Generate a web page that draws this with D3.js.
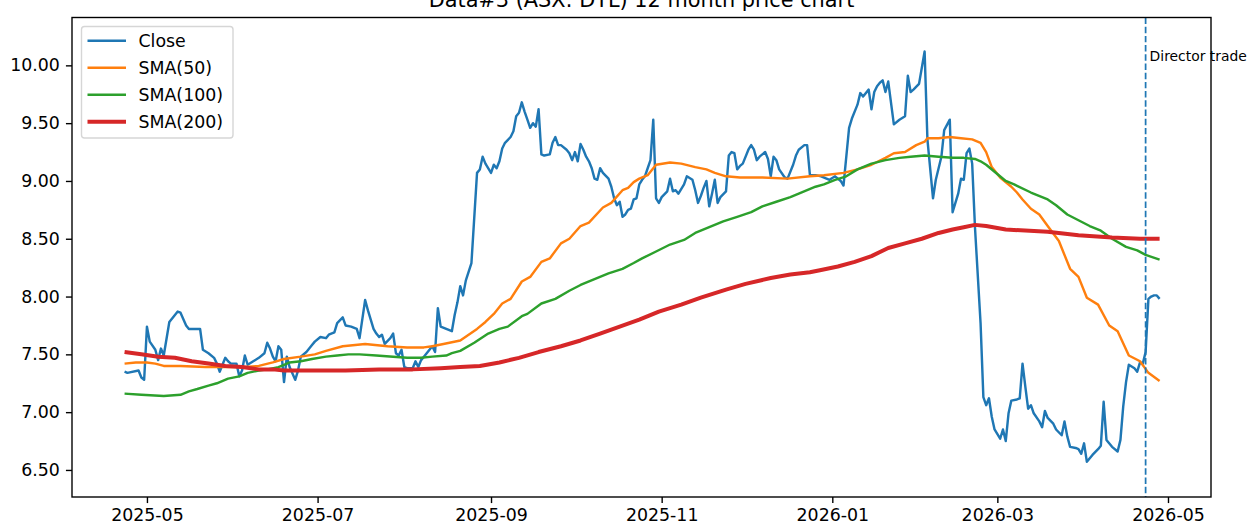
<!DOCTYPE html>
<html>
<head>
<meta charset="utf-8">
<script src="https://cdn.jsdelivr.net/npm/d3@7"></script>
<style>
  body { margin: 0; background: #fff; }
  svg { display: block; font-family: "DejaVu Sans", sans-serif; }
</style>
</head>
<body>
<script>
const title = "Data#3 (ASX: DTL) 12 month price chart";
const seriesNames = ["Close", "SMA(50)", "SMA(100)", "SMA(200)"];
const yTicks = [6.5, 7.0, 7.5, 8.0, 8.5, 9.0, 9.5, 10.0];
const tradeDate = "2026-04-23";
const tradeLabel = "Director trade";

const close = [
  ["2025-04-23", 7.35], ["2025-04-24", 7.34], ["2025-04-28", 7.36], ["2025-04-29", 7.30], ["2025-04-30", 7.28],
  ["2025-05-01", 7.74], ["2025-05-02", 7.61], ["2025-05-04", 7.54], ["2025-05-05", 7.45], ["2025-05-06", 7.55],
  ["2025-05-07", 7.49], ["2025-05-09", 7.78], ["2025-05-10", 7.81], ["2025-05-12", 7.87], ["2025-05-13", 7.86],
  ["2025-05-15", 7.75], ["2025-05-16", 7.72], ["2025-05-18", 7.72], ["2025-05-20", 7.72], ["2025-05-21", 7.54],
  ["2025-05-23", 7.51], ["2025-05-25", 7.47], ["2025-05-26", 7.42], ["2025-05-27", 7.35], ["2025-05-28", 7.41],
  ["2025-05-29", 7.47], ["2025-05-30", 7.44], ["2025-05-31", 7.42], ["2025-06-02", 7.42], ["2025-06-03", 7.31],
  ["2025-06-04", 7.36], ["2025-06-05", 7.49], ["2025-06-06", 7.41], ["2025-06-08", 7.44], ["2025-06-10", 7.47],
  ["2025-06-12", 7.51], ["2025-06-13", 7.60], ["2025-06-14", 7.55], ["2025-06-15", 7.48], ["2025-06-16", 7.44],
  ["2025-06-17", 7.57], ["2025-06-18", 7.54], ["2025-06-19", 7.26], ["2025-06-20", 7.48], ["2025-06-21", 7.39],
  ["2025-06-23", 7.28], ["2025-06-24", 7.36], ["2025-06-25", 7.48], ["2025-06-27", 7.52], ["2025-06-29", 7.58],
  ["2025-06-30", 7.61], ["2025-07-02", 7.65], ["2025-07-04", 7.64], ["2025-07-05", 7.67], ["2025-07-07", 7.69],
  ["2025-07-08", 7.77], ["2025-07-10", 7.82], ["2025-07-11", 7.75], ["2025-07-13", 7.74], ["2025-07-15", 7.72],
  ["2025-07-16", 7.64], ["2025-07-18", 7.97], ["2025-07-19", 7.88], ["2025-07-21", 7.72], ["2025-07-22", 7.68],
  ["2025-07-23", 7.65], ["2025-07-24", 7.67], ["2025-07-25", 7.59], ["2025-07-27", 7.64], ["2025-07-28", 7.68],
  ["2025-07-29", 7.51], ["2025-07-30", 7.49], ["2025-07-31", 7.54], ["2025-08-01", 7.39], ["2025-08-02", 7.38],
  ["2025-08-04", 7.38], ["2025-08-05", 7.44], ["2025-08-06", 7.39], ["2025-08-07", 7.45], ["2025-08-08", 7.48],
  ["2025-08-10", 7.54], ["2025-08-11", 7.57], ["2025-08-12", 7.52], ["2025-08-13", 7.90], ["2025-08-14", 7.74],
  ["2025-08-16", 7.72], ["2025-08-18", 7.70], ["2025-08-19", 7.84], ["2025-08-20", 7.95], ["2025-08-21", 8.09],
  ["2025-08-22", 8.01], ["2025-08-23", 8.14], ["2025-08-25", 8.29], ["2025-08-27", 9.07], ["2025-08-28", 9.10],
  ["2025-08-29", 9.21], ["2025-08-30", 9.15], ["2025-09-01", 9.07], ["2025-09-02", 9.14], ["2025-09-03", 9.11],
  ["2025-09-04", 9.17], ["2025-09-05", 9.28], ["2025-09-06", 9.33], ["2025-09-08", 9.38], ["2025-09-09", 9.43],
  ["2025-09-10", 9.56], ["2025-09-11", 9.59], ["2025-09-12", 9.68], ["2025-09-13", 9.60], ["2025-09-14", 9.53],
  ["2025-09-15", 9.46], ["2025-09-16", 9.50], ["2025-09-17", 9.47], ["2025-09-18", 9.62], ["2025-09-19", 9.23],
  ["2025-09-20", 9.22], ["2025-09-22", 9.23], ["2025-09-23", 9.33], ["2025-09-24", 9.38], ["2025-09-25", 9.31],
  ["2025-09-26", 9.31], ["2025-09-28", 9.27], ["2025-09-29", 9.24], ["2025-09-30", 9.18], ["2025-10-01", 9.25],
  ["2025-10-02", 9.17], ["2025-10-03", 9.32], ["2025-10-04", 9.27], ["2025-10-05", 9.21], ["2025-10-06", 9.17],
  ["2025-10-07", 9.11], ["2025-10-08", 9.02], ["2025-10-09", 9.01], ["2025-10-10", 9.11], ["2025-10-11", 9.07],
  ["2025-10-13", 9.02], ["2025-10-14", 8.95], ["2025-10-15", 8.85], ["2025-10-16", 8.79], ["2025-10-17", 8.82],
  ["2025-10-18", 8.69], ["2025-10-19", 8.71], ["2025-10-20", 8.75], ["2025-10-21", 8.76], ["2025-10-22", 8.84],
  ["2025-10-23", 8.85], ["2025-10-24", 8.97], ["2025-10-25", 9.01], ["2025-10-26", 9.04], ["2025-10-27", 9.11],
  ["2025-10-28", 9.18], ["2025-10-29", 9.53], ["2025-10-30", 8.85], ["2025-10-31", 8.81], ["2025-11-01", 8.86],
  ["2025-11-03", 8.91], ["2025-11-04", 9.02], ["2025-11-05", 8.91], ["2025-11-06", 8.92], ["2025-11-07", 8.89],
  ["2025-11-09", 8.97], ["2025-11-10", 9.04], ["2025-11-12", 9.01], ["2025-11-13", 8.92], ["2025-11-14", 8.81],
  ["2025-11-15", 8.87], ["2025-11-16", 8.94], ["2025-11-17", 9.00], ["2025-11-18", 8.78], ["2025-11-19", 8.89],
  ["2025-11-20", 9.01], ["2025-11-21", 8.81], ["2025-11-22", 8.86], ["2025-11-24", 8.91], ["2025-11-25", 9.22],
  ["2025-11-26", 9.25], ["2025-11-27", 9.24], ["2025-11-28", 9.10], ["2025-11-29", 9.13], ["2025-11-30", 9.15],
  ["2025-12-02", 9.27], ["2025-12-03", 9.31], ["2025-12-04", 9.27], ["2025-12-05", 9.18], ["2025-12-06", 9.21],
  ["2025-12-08", 9.25], ["2025-12-09", 9.19], ["2025-12-10", 9.04], ["2025-12-11", 9.21], ["2025-12-12", 9.18],
  ["2025-12-13", 9.10], ["2025-12-15", 9.03], ["2025-12-16", 9.02], ["2025-12-18", 9.14], ["2025-12-19", 9.22],
  ["2025-12-20", 9.27], ["2025-12-22", 9.31], ["2025-12-23", 9.31], ["2025-12-24", 9.05], ["2025-12-26", 9.05],
  ["2025-12-28", 9.04], ["2025-12-31", 9.01], ["2026-01-02", 9.04], ["2026-01-04", 9.00], ["2026-01-05", 8.96],
  ["2026-01-07", 9.46], ["2026-01-08", 9.54], ["2026-01-10", 9.66], ["2026-01-11", 9.76], ["2026-01-12", 9.73],
  ["2026-01-14", 9.79], ["2026-01-15", 9.62], ["2026-01-16", 9.77], ["2026-01-17", 9.82], ["2026-01-18", 9.85],
  ["2026-01-19", 9.87], ["2026-01-20", 9.77], ["2026-01-21", 9.86], ["2026-01-23", 9.49], ["2026-01-25", 9.53],
  ["2026-01-27", 9.56], ["2026-01-28", 9.91], ["2026-01-29", 9.77], ["2026-01-30", 9.79], ["2026-02-01", 9.84],
  ["2026-02-03", 10.12], ["2026-02-04", 9.36], ["2026-02-06", 8.85], ["2026-02-07", 9.01], ["2026-02-09", 9.21],
  ["2026-02-10", 9.44], ["2026-02-12", 9.53], ["2026-02-13", 8.73], ["2026-02-15", 8.89], ["2026-02-16", 9.02],
  ["2026-02-17", 9.01], ["2026-02-18", 9.24], ["2026-02-19", 9.28], ["2026-02-20", 9.15], ["2026-02-21", 8.60],
  ["2026-02-23", 7.77], ["2026-02-24", 7.13], ["2026-02-25", 7.06], ["2026-02-26", 7.12], ["2026-02-27", 6.96],
  ["2026-02-28", 6.85], ["2026-03-02", 6.77], ["2026-03-03", 6.85], ["2026-03-04", 6.75], ["2026-03-05", 6.99],
  ["2026-03-06", 7.10], ["2026-03-08", 7.11], ["2026-03-09", 7.12], ["2026-03-10", 7.42], ["2026-03-11", 7.22],
  ["2026-03-12", 7.03], ["2026-03-13", 7.06], ["2026-03-14", 6.99], ["2026-03-16", 6.92], ["2026-03-17", 6.87],
  ["2026-03-18", 7.01], ["2026-03-19", 6.95], ["2026-03-21", 6.90], ["2026-03-22", 6.85], ["2026-03-24", 6.80],
  ["2026-03-25", 6.92], ["2026-03-26", 6.79], ["2026-03-27", 6.70], ["2026-03-29", 6.69], ["2026-03-30", 6.68],
  ["2026-03-31", 6.64], ["2026-04-01", 6.73], ["2026-04-02", 6.57], ["2026-04-04", 6.63], ["2026-04-06", 6.68],
  ["2026-04-07", 6.71], ["2026-04-08", 7.09], ["2026-04-09", 6.76], ["2026-04-11", 6.70], ["2026-04-13", 6.66],
  ["2026-04-14", 6.76], ["2026-04-15", 7.05], ["2026-04-16", 7.26], ["2026-04-17", 7.41], ["2026-04-19", 7.38],
  ["2026-04-20", 7.35], ["2026-04-21", 7.43], ["2026-04-22", 7.42], ["2026-04-23", 7.52], ["2026-04-24", 7.98],
  ["2026-04-25", 8.00], ["2026-04-26", 8.01], ["2026-04-27", 8.01], ["2026-04-28", 7.98]
];

const sma50 = [
  ["2025-04-23", 7.42], ["2025-04-27", 7.43], ["2025-05-01", 7.43], ["2025-05-04", 7.42], ["2025-05-07", 7.40],
  ["2025-05-13", 7.40], ["2025-05-22", 7.39], ["2025-06-05", 7.39], ["2025-06-10", 7.40], ["2025-06-15", 7.43],
  ["2025-06-19", 7.46], ["2025-06-25", 7.48], ["2025-06-30", 7.50], ["2025-07-04", 7.53], ["2025-07-10", 7.57],
  ["2025-07-18", 7.59], ["2025-07-26", 7.57], ["2025-08-02", 7.56], ["2025-08-08", 7.56], ["2025-08-11", 7.57],
  ["2025-08-15", 7.59], ["2025-08-21", 7.62], ["2025-08-27", 7.72], ["2025-08-30", 7.78], ["2025-09-02", 7.85],
  ["2025-09-05", 7.94], ["2025-09-08", 7.98], ["2025-09-12", 8.13], ["2025-09-15", 8.17], ["2025-09-19", 8.30],
  ["2025-09-22", 8.33], ["2025-09-26", 8.46], ["2025-09-29", 8.50], ["2025-10-03", 8.61], ["2025-10-06", 8.64],
  ["2025-10-11", 8.77], ["2025-10-14", 8.81], ["2025-10-18", 8.92], ["2025-10-20", 8.94], ["2025-10-22", 8.99],
  ["2025-10-24", 9.02], ["2025-10-27", 9.05], ["2025-10-30", 9.14], ["2025-11-04", 9.16], ["2025-11-08", 9.15],
  ["2025-11-13", 9.12], ["2025-11-17", 9.10], ["2025-11-20", 9.07], ["2025-11-24", 9.04], ["2025-11-29", 9.03],
  ["2025-12-07", 9.03], ["2025-12-16", 9.02], ["2025-12-24", 9.04], ["2025-12-29", 9.05], ["2026-01-05", 9.07],
  ["2026-01-10", 9.10], ["2026-01-15", 9.14], ["2026-01-20", 9.20], ["2026-01-23", 9.24], ["2026-01-27", 9.25],
  ["2026-01-31", 9.31], ["2026-02-03", 9.34], ["2026-02-04", 9.37], ["2026-02-08", 9.37], ["2026-02-12", 9.38],
  ["2026-02-16", 9.37], ["2026-02-20", 9.36], ["2026-02-23", 9.33], ["2026-02-25", 9.25], ["2026-02-27", 9.12],
  ["2026-03-02", 9.03], ["2026-03-06", 8.95], ["2026-03-08", 8.90], ["2026-03-10", 8.84], ["2026-03-13", 8.76],
  ["2026-03-16", 8.71], ["2026-03-19", 8.61], ["2026-03-23", 8.48], ["2026-03-27", 8.24], ["2026-03-30", 8.17],
  ["2026-04-02", 7.99], ["2026-04-06", 7.93], ["2026-04-10", 7.75], ["2026-04-13", 7.70], ["2026-04-17", 7.49],
  ["2026-04-21", 7.44], ["2026-04-24", 7.34], ["2026-04-28", 7.27]
];

const sma100 = [
  ["2025-04-23", 7.16], ["2025-04-29", 7.15], ["2025-05-07", 7.14], ["2025-05-13", 7.15], ["2025-05-16", 7.18],
  ["2025-05-19", 7.20], ["2025-05-23", 7.23], ["2025-05-26", 7.25], ["2025-05-30", 7.29], ["2025-06-03", 7.31],
  ["2025-06-06", 7.34], ["2025-06-10", 7.36], ["2025-06-13", 7.37], ["2025-06-17", 7.39], ["2025-06-19", 7.41],
  ["2025-06-21", 7.43], ["2025-06-25", 7.44], ["2025-06-29", 7.46], ["2025-07-04", 7.48], ["2025-07-08", 7.49],
  ["2025-07-12", 7.50], ["2025-07-16", 7.50], ["2025-07-22", 7.49], ["2025-07-28", 7.48], ["2025-08-02", 7.47],
  ["2025-08-07", 7.47], ["2025-08-11", 7.48], ["2025-08-16", 7.49], ["2025-08-18", 7.51], ["2025-08-21", 7.53],
  ["2025-08-26", 7.60], ["2025-08-31", 7.68], ["2025-09-04", 7.72], ["2025-09-07", 7.74], ["2025-09-12", 7.83],
  ["2025-09-14", 7.85], ["2025-09-19", 7.94], ["2025-09-24", 7.98], ["2025-09-29", 8.05], ["2025-10-03", 8.10],
  ["2025-10-08", 8.15], ["2025-10-13", 8.20], ["2025-10-18", 8.24], ["2025-10-22", 8.29], ["2025-10-25", 8.33],
  ["2025-10-30", 8.39], ["2025-11-04", 8.45], ["2025-11-09", 8.49], ["2025-11-13", 8.55], ["2025-11-18", 8.60],
  ["2025-11-23", 8.65], ["2025-11-28", 8.69], ["2025-12-03", 8.73], ["2025-12-07", 8.78], ["2025-12-12", 8.82],
  ["2025-12-17", 8.86], ["2025-12-20", 8.89], ["2025-12-23", 8.92], ["2025-12-26", 8.95], ["2025-12-29", 8.97],
  ["2026-01-02", 9.01], ["2026-01-06", 9.04], ["2026-01-10", 9.10], ["2026-01-15", 9.15], ["2026-01-20", 9.18],
  ["2026-01-25", 9.20], ["2026-01-29", 9.21], ["2026-02-03", 9.22], ["2026-02-08", 9.21], ["2026-02-13", 9.20],
  ["2026-02-17", 9.20], ["2026-02-21", 9.19], ["2026-02-23", 9.17], ["2026-02-25", 9.14], ["2026-02-28", 9.08],
  ["2026-03-04", 9.00], ["2026-03-07", 8.97], ["2026-03-13", 8.90], ["2026-03-19", 8.84], ["2026-03-22", 8.79],
  ["2026-03-26", 8.71], ["2026-03-30", 8.66], ["2026-04-03", 8.61], ["2026-04-07", 8.57], ["2026-04-11", 8.50],
  ["2026-04-16", 8.43], ["2026-04-20", 8.40], ["2026-04-23", 8.36], ["2026-04-28", 8.32]
];

const sma200 = [
  ["2025-04-23", 7.52], ["2025-04-29", 7.50], ["2025-05-05", 7.48], ["2025-05-11", 7.47], ["2025-05-17", 7.44],
  ["2025-05-23", 7.42], ["2025-05-29", 7.40], ["2025-06-04", 7.39], ["2025-06-10", 7.37], ["2025-06-15", 7.37],
  ["2025-06-19", 7.36], ["2025-06-29", 7.36], ["2025-07-11", 7.36], ["2025-07-23", 7.37], ["2025-08-04", 7.37],
  ["2025-08-14", 7.38], ["2025-08-21", 7.39], ["2025-08-28", 7.40], ["2025-09-04", 7.43], ["2025-09-11", 7.47],
  ["2025-09-18", 7.52], ["2025-09-26", 7.57], ["2025-10-03", 7.62], ["2025-10-10", 7.68], ["2025-10-17", 7.74],
  ["2025-10-24", 7.80], ["2025-10-31", 7.87], ["2025-11-08", 7.93], ["2025-11-15", 7.99], ["2025-11-24", 8.06],
  ["2025-12-01", 8.11], ["2025-12-10", 8.16], ["2025-12-17", 8.19], ["2025-12-24", 8.21], ["2025-12-28", 8.23],
  ["2026-01-03", 8.26], ["2026-01-09", 8.30], ["2026-01-15", 8.35], ["2026-01-21", 8.42], ["2026-01-27", 8.46],
  ["2026-02-02", 8.50], ["2026-02-08", 8.55], ["2026-02-13", 8.58], ["2026-02-17", 8.60], ["2026-02-21", 8.62],
  ["2026-02-25", 8.61], ["2026-03-04", 8.58], ["2026-03-19", 8.56], ["2026-03-30", 8.53], ["2026-04-11", 8.51],
  ["2026-04-21", 8.50], ["2026-04-28", 8.50]
];

const parseDate = d3.utcParse("%Y-%m-%d");

// figure was saved at 125 dpi, so 1pt = 125/72 px
const PT = 125 / 72;

class PriceChart {
    constructor(width = 1251, height = 525){
        this.width = width;
        this.height = height;
        this.plot = {left: 72, right: 1211, top: 17.5, bottom: 497};

        this.series = [
            {name: seriesNames[0], data: close, color: "#1f77b4", width: 1.4 * PT},
            {name: seriesNames[1], data: sma50, color: "#ff7f0e", width: 1.4 * PT},
            {name: seriesNames[2], data: sma100, color: "#2ca02c", width: 1.4 * PT},
            {name: seriesNames[3], data: sma200, color: "#d62728", width: 2.3 * PT}
        ];

        this.build();
    }

    build(){
        this.createSvg();
        this.createScales();
        this.addAxes();
        this.addLines();
        this.addTrade();
        this.addFrame();
        this.addLegend();
    }

    createSvg(){
        this.svg = d3.select("body")
            .append("svg")
            .attr("width", this.width)
            .attr("height", this.height);

        this.svg.append("rect")
            .attr("width", this.width)
            .attr("height", this.height)
            .attr("fill", "#fff");
    }

    createScales(){
        let p = this.plot;
        this.x = d3.scaleUtc()
            .domain([new Date(Date.UTC(2025, 3, 4, 5)), new Date(Date.UTC(2026, 4, 16, 9))])
            .range([p.left, p.right]);

        this.y = d3.scaleLinear()
            .domain([6.266, 10.414])
            .range([p.bottom, p.top]);
    }

    addAxes(){
        let p = this.plot;

        let xAxis = d3.axisBottom(this.x)
            .ticks(d3.utcMonth.every(2))
            .tickFormat(d3.utcFormat("%Y-%m"))
            .tickSize(3.5 * PT)
            .tickPadding(3.5 * PT);

        let yAxis = d3.axisLeft(this.y)
            .tickValues(yTicks)
            .tickFormat(d3.format(".2f"))
            .tickSize(3.5 * PT)
            .tickPadding(3.5 * PT);

        let gx = this.svg.append("g")
            .attr("transform", `translate(0,${p.bottom})`)
            .call(xAxis);

        let gy = this.svg.append("g")
            .attr("transform", `translate(${p.left},0)`)
            .call(yAxis);

        [gx, gy].forEach(g => {
            g.select(".domain").remove();
            g.selectAll(".tick line").attr("stroke", "#000").attr("stroke-width", 0.8 * PT);
            g.selectAll(".tick text")
                .attr("fill", "#000")
                .style("font-family", "DejaVu Sans")
                .style("font-size", (10 * PT) + "px");
        });

        this.svg.append("text")
            .attr("x", (p.left + p.right) / 2)
            .attr("y", p.top - 6 * PT)
            .attr("text-anchor", "middle")
            .style("font-size", (12 * PT) + "px")
            .text(title);
    }

    addLines(){
        let line = d3.line()
            .x(d => this.x(parseDate(d[0])))
            .y(d => this.y(d[1]));

        this.svg.append("g")
            .selectAll("path")
            .data(this.series)
            .enter().append("path")
            .attr("d", d => line(d.data))
            .attr("fill", "none")
            .attr("stroke", d => d.color)
            .attr("stroke-width", d => d.width)
            .attr("stroke-linejoin", "round");
    }

    addTrade(){
        let p = this.plot;
        let tx = this.x(parseDate(tradeDate));

        this.svg.append("line")
            .attr("x1", tx).attr("x2", tx)
            .attr("y1", p.top).attr("y2", p.bottom)
            .attr("stroke", "#1f77b4")
            .attr("stroke-width", 1 * PT)
            .attr("stroke-dasharray", `${3.7 * PT},${1.6 * PT}`);

        this.svg.append("text")
            .attr("x", tx + 4)
            .attr("y", 61)
            .style("font-size", (8 * PT) + "px")
            .text(tradeLabel);
    }

    addFrame(){
        let p = this.plot;
        this.svg.append("rect")
            .attr("x", p.left)
            .attr("y", p.top)
            .attr("width", p.right - p.left)
            .attr("height", p.bottom - p.top)
            .attr("fill", "none")
            .attr("stroke", "#000")
            .attr("stroke-width", 0.8 * PT);
    }

    addLegend(){
        let legend = this.svg.append("g")
            .attr("transform", "translate(81.5,26.5)");

        legend.append("rect")
            .attr("width", 151.5)
            .attr("height", 111.5)
            .attr("rx", 3)
            .attr("fill", "#fff")
            .attr("fill-opacity", 0.8)
            .attr("stroke", "#d6d6d6")
            .attr("stroke-width", 0.8 * PT);

        let rows = legend.selectAll(".legend__row")
            .data(this.series)
            .enter().append("g")
            .attr("class", "legend__row")
            .attr("transform", (d, i) => `translate(0,${14.2 + i * 27})`);

        rows.append("line")
            .attr("x1", 6).attr("x2", 44.5)
            .attr("stroke", d => d.color)
            .attr("stroke-width", d => d.width);

        rows.append("text")
            .attr("x", 57)
            .attr("dy", "0.36em")
            .style("font-size", (10 * PT) + "px")
            .text(d => d.name);
    }
}

new PriceChart();
</script>
</body>
</html>
